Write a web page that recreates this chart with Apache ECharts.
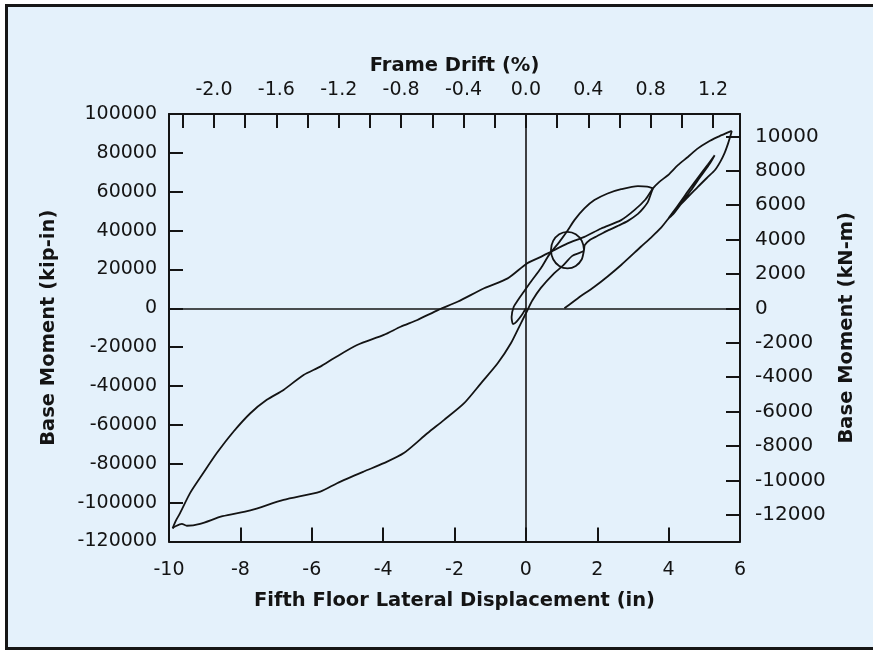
<!DOCTYPE html>
<html>
<head>
<meta charset="utf-8">
<script src="https://cdn.jsdelivr.net/npm/echarts@6/dist/echarts.min.js"></script>
<style>
  html, body { margin: 0; padding: 0; background: #ffffff; width: 873px; height: 652px; overflow: hidden; }
  #panel { position: absolute; left: 5px; top: 4px; width: 872px; height: 640px; border: 3px solid #161616; border-right: none; background: #e4f1fb; }
  #chart { position: absolute; left: 0; top: 0; width: 873px; height: 652px; }
</style>
</head>
<body>
<div id="panel"></div>
<div id="chart"></div>
<script>
// Unit conversions for the secondary axes
const IN_PER_PCT = 4.37;        // fifth-floor displacement (in) per 1 % frame drift
const KNM_PER_KIPIN = 0.11298;  // kip-in -> kN-m

// Secondary-axis tick marks and labels
const driftTicks = [-2.2, -2.0, -1.8, -1.6, -1.4, -1.2, -1.0, -0.8, -0.6, -0.4, -0.2, 0.0, 0.2, 0.4, 0.6, 0.8, 1.0, 1.2];
const driftLabels = [-2.0, -1.6, -1.2, -0.8, -0.4, 0.0, 0.4, 0.8, 1.2];
const knmTicks = [-12000, -10000, -8000, -6000, -4000, -2000, 0, 2000, 4000, 6000, 8000, 10000];

// Hysteresis response, [displacement (in), base moment (kip-in)], in time order
const initialLoading = [
  [0, 0], [-0.12, -3600], [-0.26, -6800], [-0.36, -8100], [-0.4, -4500], [-0.34, 800],
  [-0.22, 4300], [-0.08, 8000], [0.14, 13700], [0.42, 20600], [0.65, 27500], [0.94, 34200],
  [1.17, 40000], [1.36, 45400], [1.64, 51400], [1.92, 55700], [2.29, 59100], [2.67, 61300],
  [3.14, 62900], [3.4, 62600], [3.56, 61700]
];

const firstUnloading = [
  [3.56, 61700], [3.51, 59300], [3.42, 54800], [3.28, 51300], [3.14, 48600], [2.86, 45000],
  [2.6, 42600], [2.29, 40000], [2.0, 37200], [1.8, 35300], [1.65, 32500],
  // small cycle
  [1.629, 29970], [1.567, 25265], [1.398, 21820], [1.166, 20560], [0.934, 21820], [0.765, 25265],
  [0.703, 29970], [0.765, 34675], [0.934, 38120], [1.166, 39380], [1.398, 38120], [1.567, 34675],
  [1.629, 29970],
  [1.3, 27000], [1.03, 21800], [0.79, 18000], [0.42, 10500], [0.18, 4000], [0.03, -1500],
  [-0.14, -7700], [-0.42, -18000], [-0.79, -28300], [-1.26, -38600], [-1.73, -48800],
  [-2.29, -57400], [-2.76, -64300], [-3.42, -74500], [-3.98, -79700], [-4.54, -84000],
  [-5.29, -90000], [-5.76, -94300], [-6.79, -98600], [-7.72, -104000], [-8.5, -107000],
  [-9.13, -110900], [-9.5, -111900], [-9.64, -110900], [-9.83, -112300], [-9.9, -113200]
];

const reversal = [
  [-9.9, -113200], [-9.8, -109000], [-9.69, -105400], [-9.41, -95100], [-9.04, -84800],
  [-8.66, -74500], [-8.19, -63400], [-7.72, -54000], [-7.26, -47100], [-6.79, -42000],
  [-6.23, -34300], [-5.76, -30000], [-5.38, -25700], [-4.73, -18900], [-3.98, -13700],
  [-3.51, -9500], [-3.04, -6000], [-2.45, -800], [-1.9, 3500], [-1.17, 10300], [-0.51, 15400],
  [0.03, 23100], [0.42, 26500], [0.7, 29100], [1.17, 33400], [1.64, 36800], [2.11, 41100],
  [2.67, 45400], [3.04, 50500], [3.35, 56000], [3.56, 61700], [3.74, 65100], [3.98, 68500],
  [4.26, 73700], [4.54, 77900], [4.82, 82300], [5.1, 85600], [5.38, 88200], [5.6, 90000],
  [5.77, 91300]
];

const finalUnloading = [
  [5.77, 91300], [5.72, 88000], [5.66, 84500], [5.57, 80000], [5.45, 75500], [5.3, 71200],
  [5.1, 67600], [4.82, 62500], [4.54, 57200], [4.26, 52000], [4.0, 46500],
  // short reload cycle
  [4.26, 52900], [4.54, 60200], [4.82, 67200], [5.1, 74000], [5.29, 78800], [5.16, 74700],
  [4.9, 68000], [4.62, 60600], [4.35, 53800], [4.12, 48300], [4.0, 46300],
  [3.79, 41500], [3.5, 36300], [3.23, 31800], [2.67, 22300], [2.29, 16400], [1.92, 11100],
  [1.45, 5100], [1.08, 0]
];

const INK = '#141414';
const FONT = 'DejaVu Sans';

const axisLineStyle = { show: true, onZero: false, lineStyle: { color: INK, width: 2 } };
const tickStyle = { show: true, inside: true, length: 14, lineStyle: { color: INK, width: 2 } };
const labelStyle = { color: INK, fontFamily: FONT, fontSize: 19 };
const nameStyle = { color: INK, fontFamily: FONT, fontSize: 19.5, fontWeight: 'bold' };

const curve = (data) => ({
  type: 'line',
  xAxisIndex: 0,
  yAxisIndex: 0,
  data: data,
  showSymbol: false,
  smooth: 0.25,
  lineStyle: { color: INK, width: 1.8 },
  silent: true,
  z: 3
});

const chart = echarts.init(document.getElementById('chart'), null, { renderer: 'canvas' });

const series = [curve(initialLoading), curve(firstUnloading), curve(reversal), curve(finalUnloading)];
series[0].markLine = {
  silent: true,
  symbol: ['none', 'none'],
  label: { show: false },
  lineStyle: { color: INK, width: 1.6, type: 'solid' },
  emphasis: { disabled: true },
  data: [{ xAxis: 0 }, { yAxis: 0 }]
};

chart.setOption({
  animation: false,
  backgroundColor: 'transparent',
  textStyle: { fontFamily: FONT },
  grid: { left: 169, right: 133, top: 114, bottom: 110.5, outerBoundsMode: 'none', containLabel: false },
  xAxis: [
    {
      type: 'value', position: 'bottom', min: -10, max: 6, interval: 2,
      axisLine: axisLineStyle, axisTick: tickStyle,
      axisLabel: Object.assign({ margin: 19, formatter: (v) => String(v) }, labelStyle),
      splitLine: { show: false },
      name: 'Fifth Floor Lateral Displacement (in)', nameLocation: 'middle', nameGap: 49,
      nameTextStyle: nameStyle
    },
    {
      type: 'value', position: 'top', min: -10 / IN_PER_PCT, max: 6 / IN_PER_PCT,
      axisLine: axisLineStyle,
      axisTick: Object.assign({ customValues: driftTicks }, tickStyle),
      axisLabel: Object.assign({ margin: 14, customValues: driftLabels, formatter: (v) => Number(v).toFixed(1) }, labelStyle),
      splitLine: { show: false },
      name: 'Frame Drift (%)', nameLocation: 'middle', nameGap: 31,
      nameTextStyle: nameStyle
    }
  ],
  yAxis: [
    {
      type: 'value', position: 'left', min: -120000, max: 100000, interval: 20000,
      axisLine: axisLineStyle, axisTick: tickStyle,
      axisLabel: Object.assign({ margin: 12, formatter: (v) => String(v) }, labelStyle),
      splitLine: { show: false },
      name: 'Base Moment (kip-in)', nameLocation: 'middle', nameGap: 110,
      nameTextStyle: nameStyle
    },
    {
      type: 'value', position: 'right', min: -120000 * KNM_PER_KIPIN, max: 100000 * KNM_PER_KIPIN,
      axisLine: axisLineStyle,
      axisTick: Object.assign({ customValues: knmTicks }, tickStyle),
      axisLabel: Object.assign({ margin: 15, customValues: knmTicks, formatter: (v) => String(Math.round(v)) }, labelStyle, { fontSize: 20 }),
      splitLine: { show: false },
      name: 'Base Moment (kN-m)', nameLocation: 'middle', nameGap: 85,
      nameTextStyle: nameStyle
    }
  ],
  series: series
});
</script>
</body>
</html>
